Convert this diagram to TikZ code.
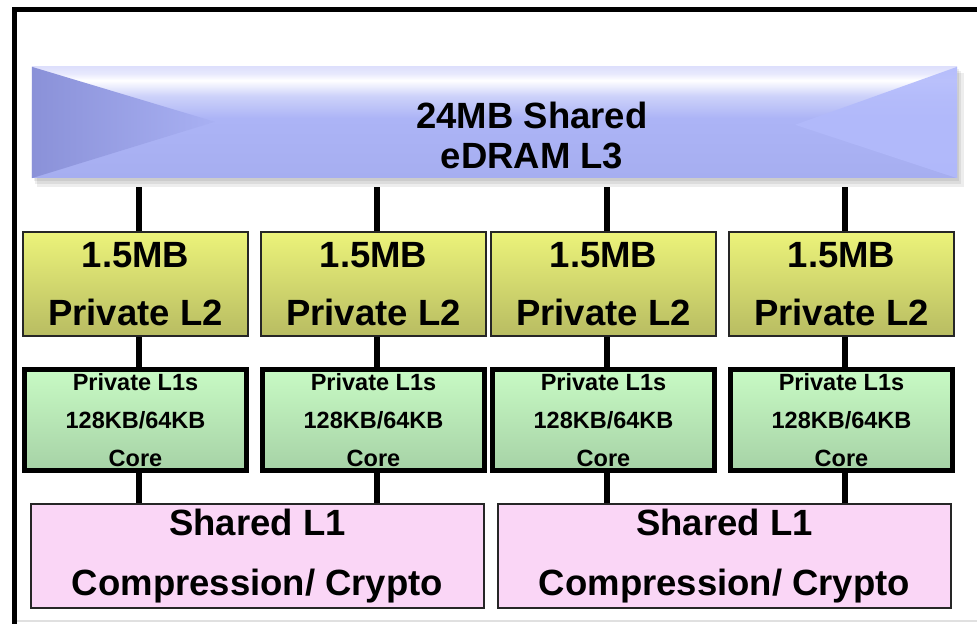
\documentclass[tikz,border=0pt]{standalone}
\usepackage{fontspec}
\setmainfont{Liberation Sans}
\definecolor{l3top}{RGB}{222,224,252}
\definecolor{l3mid}{RGB}{172,180,246}
\definecolor{l3bot}{RGB}{166,174,240}
\definecolor{l3dark}{RGB}{138,145,216}
\definecolor{l3light}{RGB}{178,186,251}
\definecolor{l2top}{RGB}{236,243,122}
\definecolor{l2bot}{RGB}{184,188,98}
\definecolor{l1top}{RGB}{200,250,196}
\definecolor{l1bot}{RGB}{166,210,166}
\definecolor{shpink}{RGB}{250,214,246}
\pgfdeclareverticalshading{edram}{100bp}{color(0bp)=(l3bot); color(25bp)=(l3bot);
  color(52bp)=(l3mid); color(62bp)=(l3mid!60!white); color(69bp)=(white);
  color(72bp)=(l3top!70!white); color(75bp)=(l3top); color(100bp)=(l3top)}
\begin{document}
\begin{tikzpicture}[x=1bp,y=1bp,
  frame/.style={line width=5bp},
  link/.style={line width=6bp},
  l3bar/.style={shading=edram, minimum width=925bp, minimum height=111bp, inner sep=0pt},
  l3text/.style={align=center, inner sep=0pt, font=\fontsize{36.5bp}{40bp}\selectfont\bfseries},
  l2box/.style={draw=black!85, line width=2bp, top color=l2top, bottom color=l2bot,
    minimum width=225bp, minimum height=104bp, inner sep=0pt, align=center,
    font=\fontsize{36.5bp}{58bp}\selectfont\bfseries},
  l1box/.style={draw=black, line width=5bp, top color=l1top, bottom color=l1bot,
    minimum width=222bp, minimum height=101bp, inner sep=0pt, align=center,
    font=\fontsize{23.5bp}{38bp}\selectfont\bfseries},
  sharedbox/.style={draw=black!85, line width=2bp, fill=shpink,
    minimum width=453bp, minimum height=104bp, inner sep=0pt, align=center,
    font=\fontsize{36.5bp}{60bp}\selectfont\bfseries}]
\useasboundingbox (0,0) rectangle (977,-624);
\clip (0,0) rectangle (977,-624);
% outer frame
\draw[frame] (14,-700) -- (14,-9.5) -- (1000,-9.5);
\draw[black!12, line width=2bp] (17,-621) -- (977,-621);
% shared L3
\fill[black, opacity=0.07] (37,-73) rectangle (964,-187);
\fill[black, opacity=0.07] (35,-71) rectangle (961,-184);
\fill[black, opacity=0.07] (34,-69) rectangle (959,-181);
\node[l3bar] (l3) at (494.5,-122.5) {};
\shade[left color=l3dark, right color=l3mid!90!l3dark] (l3.north west) -- ++(183,-55) -- (l3.south west) -- cycle;
\fill[l3light, opacity=0.9] (l3.north east) -- ++(-162,-58) -- (l3.south east) -- cycle;
\node[l3text] (l3label) at (532,-135) {24MB Shared\\eDRAM L3};
% private L2
\node[l2box] (l2a) at (135.5,-284) {1.5MB\\Private L2};
\node[l2box] (l2b) at (373.5,-284) {1.5MB\\Private L2};
\node[l2box] (l2c) at (603.5,-284) {1.5MB\\Private L2};
\node[l2box] (l2d) at (841.5,-284) {1.5MB\\Private L2};
% private L1 and cores
\node[l1box] (l1a) at (135.5,-420) {\raisebox{-2bp}{\parbox{200bp}{\centering Private L1s\\128KB/64KB\\Core}}};
\node[l1box] (l1b) at (373.5,-420) {\raisebox{-2bp}{\parbox{200bp}{\centering Private L1s\\128KB/64KB\\Core}}};
\node[l1box] (l1c) at (603.5,-420) {\raisebox{-2bp}{\parbox{200bp}{\centering Private L1s\\128KB/64KB\\Core}}};
\node[l1box] (l1d) at (841.5,-420) {\raisebox{-2bp}{\parbox{200bp}{\centering Private L1s\\128KB/64KB\\Core}}};
% shared L1
\node[sharedbox] (sha) at (257.5,-556) {\raisebox{-2bp}{\parbox{440bp}{\centering Shared L1\\Compression/ Crypto}}};
\node[sharedbox] (shb) at (724.5,-556) {\raisebox{-2bp}{\parbox{440bp}{\centering Shared L1\\Compression/ Crypto}}};
% links
\draw[link, shorten >=9bp] ([xshift=3bp]l2a.north) -- ([xshift=3bp]l2a.north |- l3.south);
\draw[link, shorten >=9bp] ([xshift=3bp]l2b.north) -- ([xshift=3bp]l2b.north |- l3.south);
\draw[link, shorten >=9bp] ([xshift=3bp]l2c.north) -- ([xshift=3bp]l2c.north |- l3.south);
\draw[link, shorten >=9bp] ([xshift=3bp]l2d.north) -- ([xshift=3bp]l2d.north |- l3.south);
\draw[link] ([xshift=3bp]l2a.south) -- ([xshift=3bp]l1a.north);
\draw[link] ([xshift=3bp]l2b.south) -- ([xshift=3bp]l1b.north);
\draw[link] ([xshift=3bp]l2c.south) -- ([xshift=3bp]l1c.north);
\draw[link] ([xshift=3bp]l2d.south) -- ([xshift=3bp]l1d.north);
\draw[link] ([xshift=3bp]l1a.south) -- ([xshift=3bp]l1a.south |- sha.north);
\draw[link] ([xshift=3bp]l1b.south) -- ([xshift=3bp]l1b.south |- sha.north);
\draw[link] ([xshift=3bp]l1c.south) -- ([xshift=3bp]l1c.south |- shb.north);
\draw[link] ([xshift=3bp]l1d.south) -- ([xshift=3bp]l1d.south |- shb.north);
\end{tikzpicture}
\end{document}
